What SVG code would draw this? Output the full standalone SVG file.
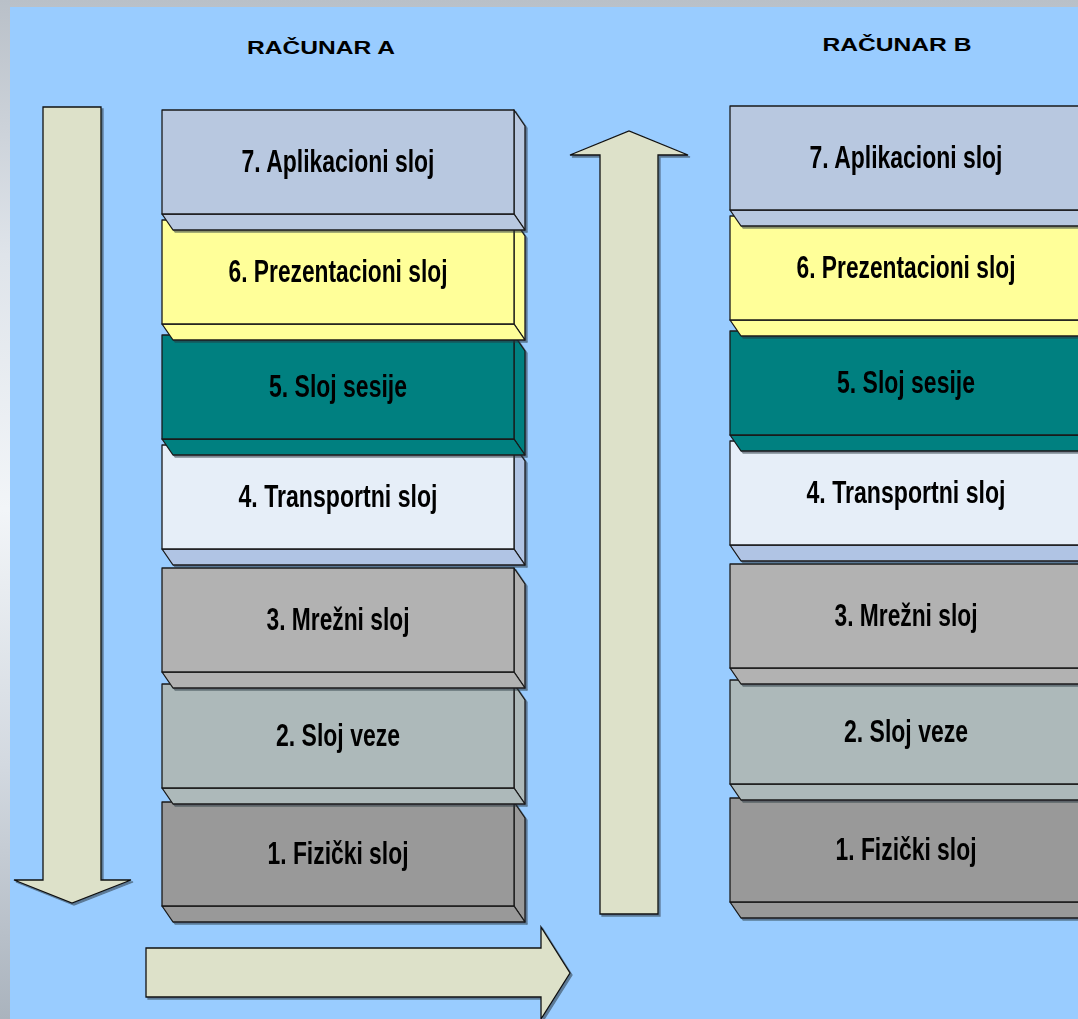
<svg xmlns="http://www.w3.org/2000/svg" xmlns:xlink="http://www.w3.org/1999/xlink" width="1078" height="1019" viewBox="0 0 1078 1019">
  <defs>
    <linearGradient id="frame" x1="0" y1="0" x2="0" y2="1">
      <stop offset="0" stop-color="#b9c0c8"/>
      <stop offset="0.25" stop-color="#dfe4ea"/>
      <stop offset="0.5" stop-color="#f2f5f8"/>
      <stop offset="0.75" stop-color="#d3d9e0"/>
      <stop offset="1" stop-color="#aab3bd"/>
    </linearGradient>
    <filter id="shade" x="-5%" y="-5%" width="110%" height="110%">
      <feDropShadow dx="2" dy="2" stdDeviation="0.4" flood-color="#2b3440" flood-opacity="0.55"/>
    </filter>
    <!-- one layer box: front face, right side face and bottom face -->
    <path id="front" d="M0 0H352V104H0Z"/>
    <path id="side" d="M352 0L363 16V120L352 104Z"/>
    <path id="bottom" d="M0 104H352L363 120H11Z"/>
    <style>
      .box use { stroke: #1a1a1a; stroke-width: 1.3; stroke-linejoin: round; }
      .box { filter: url(#shade); }
      .lbl { font-family: "Liberation Sans Narrow", "Liberation Sans", Arial, sans-serif; font-weight: bold; font-size: 31px; fill: #000; text-anchor: middle; }
      .head { font-family: "Liberation Sans", Arial, sans-serif; font-weight: bold; font-size: 19px; fill: #000; text-anchor: middle; }
      .arrow { fill: #dde1c9; stroke: #111; stroke-width: 1.3; stroke-linejoin: miter; filter: url(#shade); }
    </style>
  </defs>

  <!-- backdrop -->
  <rect x="0" y="0" width="1078" height="1019" fill="url(#frame)"/>
  <rect x="10" y="7" width="1068" height="1012" fill="#99ccff"/>

  <!-- headings -->
  <text class="head" x="321" y="54" textLength="148" lengthAdjust="spacingAndGlyphs">RAČUNAR A</text>
  <text class="head" x="897" y="51" textLength="149" lengthAdjust="spacingAndGlyphs">RAČUNAR B</text>

  <!-- flow arrows -->
  <g id="connectors">
    <polygon class="arrow" points="43,107 101,107 101,880 131,880 72,903 14,880 43,880"/>
    <polygon class="arrow" points="600,914 658,914 658,155 688,155 629,131 570,155 600,155"/>
    <polygon class="arrow" points="146,948 541,948 541,927 570,973 541,1019 541,997 146,997"/>
  </g>

  <!-- computer A stack (drawn bottom-up so upper boxes overlap lower ones) -->
  <g id="stack-a">
    <g id="a1" class="box" transform="translate(162,802)">
      <use xlink:href="#side" fill="#999999"/><use xlink:href="#bottom" fill="#999999"/><use xlink:href="#front" fill="#999999"/>
      <text class="lbl" x="176" y="62" textLength="141" lengthAdjust="spacingAndGlyphs">1. Fizički sloj</text>
    </g>
    <g id="a2" class="box" transform="translate(162,684)">
      <use xlink:href="#side" fill="#adb9ba"/><use xlink:href="#bottom" fill="#adb9ba"/><use xlink:href="#front" fill="#adb9ba"/>
      <text class="lbl" x="176" y="62" textLength="124" lengthAdjust="spacingAndGlyphs">2. Sloj veze</text>
    </g>
    <g id="a3" class="box" transform="translate(162,568)">
      <use xlink:href="#side" fill="#b2b2b2"/><use xlink:href="#bottom" fill="#b2b2b2"/><use xlink:href="#front" fill="#b2b2b2"/>
      <text class="lbl" x="176" y="62" textLength="143" lengthAdjust="spacingAndGlyphs">3. Mrežni sloj</text>
    </g>
    <g id="a4" class="box" transform="translate(162,445)">
      <use xlink:href="#side" fill="#b0c4e4"/><use xlink:href="#bottom" fill="#b0c4e4"/><use xlink:href="#front" fill="#e6eef8"/>
      <text class="lbl" x="176" y="62" textLength="199" lengthAdjust="spacingAndGlyphs">4. Transportni sloj</text>
    </g>
    <g id="a5" class="box" transform="translate(162,335)">
      <use xlink:href="#side" fill="#008080"/><use xlink:href="#bottom" fill="#008080"/><use xlink:href="#front" fill="#008080"/>
      <text class="lbl" x="176" y="62" textLength="138" lengthAdjust="spacingAndGlyphs">5. Sloj sesije</text>
    </g>
    <g id="a6" class="box" transform="translate(162,220)">
      <use xlink:href="#side" fill="#ffff99"/><use xlink:href="#bottom" fill="#ffff99"/><use xlink:href="#front" fill="#ffff99"/>
      <text class="lbl" x="176" y="62" textLength="219" lengthAdjust="spacingAndGlyphs">6. Prezentacioni sloj</text>
    </g>
    <g id="a7" class="box" transform="translate(162,110)">
      <use xlink:href="#side" fill="#b8c8e0"/><use xlink:href="#bottom" fill="#b8c8e0"/><use xlink:href="#front" fill="#b8c8e0"/>
      <text class="lbl" x="176" y="62" textLength="193" lengthAdjust="spacingAndGlyphs">7. Aplikacioni sloj</text>
    </g>
  </g>

  <!-- computer B stack -->
  <g id="stack-b">
    <g id="b1" class="box" transform="translate(730,798)">
      <use xlink:href="#side" fill="#999999"/><use xlink:href="#bottom" fill="#999999"/><use xlink:href="#front" fill="#999999"/>
      <text class="lbl" x="176" y="62" textLength="141" lengthAdjust="spacingAndGlyphs">1. Fizički sloj</text>
    </g>
    <g id="b2" class="box" transform="translate(730,680)">
      <use xlink:href="#side" fill="#adb9ba"/><use xlink:href="#bottom" fill="#adb9ba"/><use xlink:href="#front" fill="#adb9ba"/>
      <text class="lbl" x="176" y="62" textLength="124" lengthAdjust="spacingAndGlyphs">2. Sloj veze</text>
    </g>
    <g id="b3" class="box" transform="translate(730,564)">
      <use xlink:href="#side" fill="#b2b2b2"/><use xlink:href="#bottom" fill="#b2b2b2"/><use xlink:href="#front" fill="#b2b2b2"/>
      <text class="lbl" x="176" y="62" textLength="143" lengthAdjust="spacingAndGlyphs">3. Mrežni sloj</text>
    </g>
    <g id="b4" class="box" transform="translate(730,441)">
      <use xlink:href="#side" fill="#b0c4e4"/><use xlink:href="#bottom" fill="#b0c4e4"/><use xlink:href="#front" fill="#e6eef8"/>
      <text class="lbl" x="176" y="62" textLength="199" lengthAdjust="spacingAndGlyphs">4. Transportni sloj</text>
    </g>
    <g id="b5" class="box" transform="translate(730,331)">
      <use xlink:href="#side" fill="#008080"/><use xlink:href="#bottom" fill="#008080"/><use xlink:href="#front" fill="#008080"/>
      <text class="lbl" x="176" y="62" textLength="138" lengthAdjust="spacingAndGlyphs">5. Sloj sesije</text>
    </g>
    <g id="b6" class="box" transform="translate(730,216)">
      <use xlink:href="#side" fill="#ffff99"/><use xlink:href="#bottom" fill="#ffff99"/><use xlink:href="#front" fill="#ffff99"/>
      <text class="lbl" x="176" y="62" textLength="219" lengthAdjust="spacingAndGlyphs">6. Prezentacioni sloj</text>
    </g>
    <g id="b7" class="box" transform="translate(730,106)">
      <use xlink:href="#side" fill="#b8c8e0"/><use xlink:href="#bottom" fill="#b8c8e0"/><use xlink:href="#front" fill="#b8c8e0"/>
      <text class="lbl" x="176" y="62" textLength="193" lengthAdjust="spacingAndGlyphs">7. Aplikacioni sloj</text>
    </g>
  </g>
</svg>
